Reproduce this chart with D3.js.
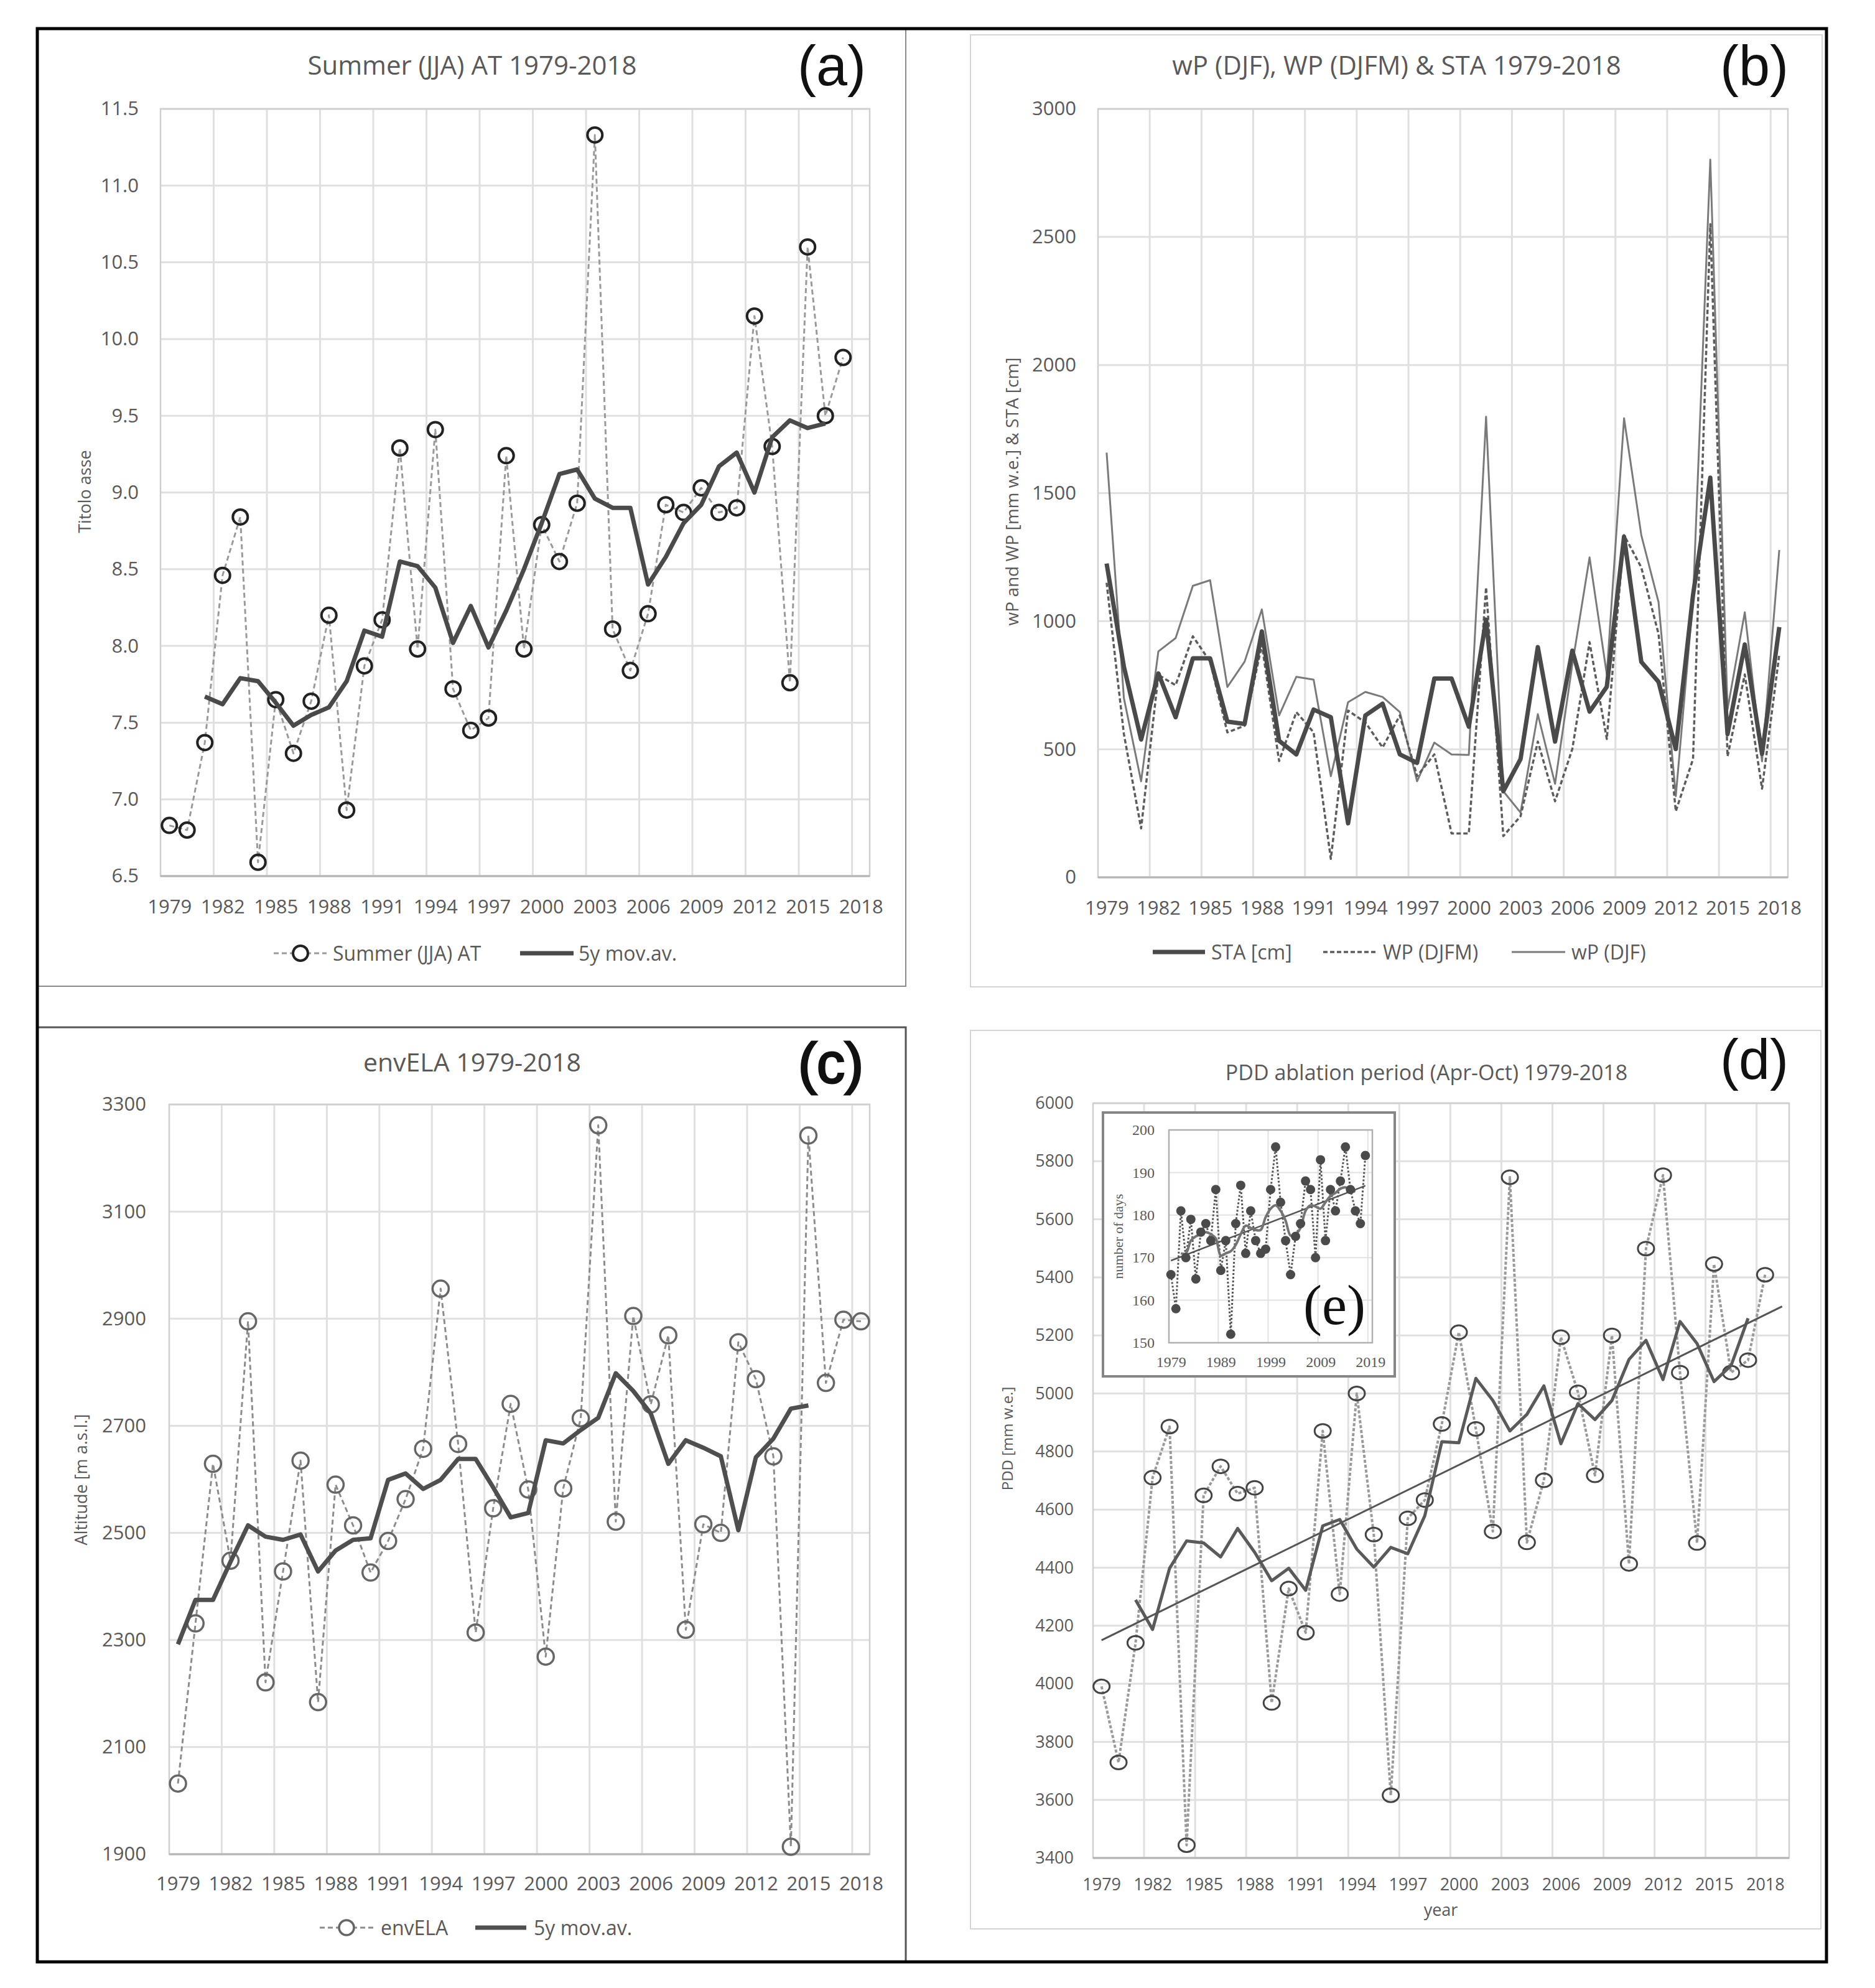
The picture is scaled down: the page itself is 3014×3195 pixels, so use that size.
<!DOCTYPE html>
<html>
<head>
<meta charset="utf-8" />
<script src="https://d3js.org/d3.v7.min.js"></script>
<style>
  body { margin: 0; background: #fff; }
  svg text { font-family: "Open Sans", sans-serif; fill: #595959; }
  .tag { font-family: "Liberation Sans", Arial, sans-serif; font-size: 90px; }
  svg .tag { fill: #111; }
  .inset text { font-family: "Liberation Serif", serif; }
</style>
</head>
<body>
<svg id="chart" width="3014" height="3195"></svg>
<script>

// ---- data ----
var years = [1979, 1980, 1981, 1982, 1983, 1984, 1985, 1986, 1987, 1988,
  1989, 1990, 1991, 1992, 1993, 1994, 1995, 1996, 1997, 1998,
  1999, 2000, 2001, 2002, 2003, 2004, 2005, 2006, 2007, 2008,
  2009, 2010, 2011, 2012, 2013, 2014, 2015, 2016, 2017, 2018];
var yearTicks = [1979, 1982, 1985, 1988, 1991, 1994, 1997, 2000, 2003, 2006, 2009, 2012, 2015, 2018];

// (a) summer air temperature
var summerAT = [6.83, 6.80, 7.37, 8.46, 8.84, 6.59, 7.65, 7.30, 7.64, 8.20,
  6.93, 7.87, 8.17, 9.29, 7.98, 9.41, 7.72, 7.45, 7.53, 9.24,
  7.98, 8.79, 8.55, 8.93, 11.33, 8.11, 7.84, 8.21, 8.92, 8.87,
  9.03, 8.87, 8.90, 10.15, 9.30, 7.76, 10.60, 9.50, 9.88, null];
var summerMovAv = [null, null, 7.67, 7.62, 7.79, 7.77, 7.63, 7.48, 7.55, 7.60,
  7.77, 8.10, 8.06, 8.55, 8.52, 8.38, 8.02, 8.26, 7.99, 8.23,
  8.50, 8.80, 9.12, 9.15, 8.96, 8.90, 8.90, 8.40, 8.58, 8.80,
  8.92, 9.17, 9.26, 9.00, 9.36, 9.47, 9.42, 9.45, null, null];
var summerTicks = [6.5, 7.0, 7.5, 8.0, 8.5, 9.0, 9.5, 10.0, 10.5, 11.0, 11.5];

// (b) winter precipitation and snow
var staCm = [1225, 823, 538, 796, 625, 855, 855, 608, 599, 960,
  533, 480, 655, 625, 211, 632, 678, 480, 447, 776,
  776, 588, 1006, 336, 462, 899, 530, 885, 647, 744,
  1330, 841, 763, 501, 1103, 1560, 559, 909, 482, 977];
var wpDJFM = [1150, 560, 191, 790, 750, 941, 842, 566, 592, 908,
  454, 645, 566, 72, 651, 605, 507, 632, 395, 480,
  171, 171, 1132, 161, 239, 530, 297, 501, 918, 540,
  1336, 1210, 950, 258, 462, 2550, 472, 792, 346, 870];
var wpDJF = [1658, 700, 375, 882, 934, 1138, 1160, 743, 842, 1046,
  632, 783, 772, 395, 684, 724, 704, 645, 375, 526,
  480, 478, 1798, 336, 253, 637, 365, 831, 1249, 792,
  1792, 1336, 1074, 317, 1084, 2802, 656, 1035, 453, 1278];
var precipTicks = [0, 500, 1000, 1500, 2000, 2500, 3000];

// (c) envELA
var envELA = [2032, 2331, 2629, 2448, 2895, 2221, 2428, 2635, 2184, 2590,
  2514, 2426, 2485, 2563, 2657, 2956, 2666, 2314, 2546, 2741,
  2581, 2269, 2583, 2714, 3261, 2521, 2905, 2740, 2869, 2319,
  2516, 2500, 2856, 2787, 2643, 1914, 3242, 2780, 2898, 2895];
var envMovAv = [2292, 2375, 2375, 2446, 2514, 2493, 2487, 2497, 2428, 2467,
  2487, 2490, 2599, 2611, 2582, 2599, 2638, 2638, 2585, 2529,
  2537, 2673, 2667, 2692, 2715, 2798, 2765, 2723, 2629, 2673,
  2659, 2643, 2505, 2641, 2676, 2732, 2738, null, null, null];
var elaTicks = [1900, 2100, 2300, 2500, 2700, 2900, 3100, 3300];

// (d) PDD ablation period
var pdd = [3991, 3729, 4141, 4710, 4886, 3444, 4649, 4749, 4655, 4675,
  3934, 4328, 4176, 4871, 4309, 5000, 4514, 3616, 4570, 4633,
  4895, 5211, 4878, 4525, 5745, 4487, 4701, 5194, 5004, 4718,
  5200, 4413, 5499, 5752, 5072, 4485, 5446, 5072, 5115, 5409];
var pddMovAv = [null, null, 4289, 4187, 4398, 4492, 4485, 4437, 4535, 4453,
  4355, 4398, 4322, 4544, 4566, 4464, 4402, 4470, 4448, 4579,
  4834, 4830, 5052, 4976, 4871, 4928, 5026, 4827, 4965, 4910,
  4976, 5117, 5183, 5048, 5248, 5172, 5041, 5096, 5259, null];
var pddTrendYears = [1979, 2019];
var pddTrend = [4150, 5300];
var pddTicks = [3400, 3600, 3800, 4000, 4200, 4400, 4600, 4800, 5000, 5200, 5400, 5600, 5800, 6000];

// (e) length of ablation period
var ablDays = [166, 158, 181, 170, 179, 165, 176, 178, 174, 186,
  167, 174, 152, 178, 187, 171, 181, 174, 171, 172,
  186, 196, 183, 174, 166, 175, 178, 188, 186, 170,
  193, 174, 186, 181, 188, 196, 186, 181, 178, 194];
var ablMovAv = [null, null, 171, 171, 174, 175, 175.5, 176, 175.5, 174.5,
  170.5, 171, 171.5, 173, 175.5, 177.5, 177, 176.5, 176.5, 179.5,
  181.5, 182.3, 181, 178.7, 175.2, 175.5, 177, 181, 182.3, 182,
  181.5, 183, 184.5, 185.2, 186.2, 186.5, 186, 185.5, null, null];
var ablTrendYears = [1979, 2018];
var ablTrend = [169.3, 186.9];
var daysTicks = [150, 160, 170, 180, 190, 200];
var daysYearTicks = [1979, 1989, 1999, 2009, 2019];

var svg = d3.select("#chart");
svg.append("rect").attr("width", 3014).attr("height", 3195).attr("fill", "#fff");

function frame(x0, y0, x1, y1, color, w) {
  svg.append("rect")
    .attr("x", x0).attr("y", y0)
    .attr("width", x1 - x0).attr("height", y1 - y0)
    .attr("fill", "none").attr("stroke", color).attr("stroke-width", w);
}

// panel frames
frame(1560, 56, 2929, 1586, "#d4d4d4", 2);
frame(1560, 1656, 2927, 3100, "#d4d4d4", 2);
frame(60, 46, 1456, 1585, "#8a8a8a", 2);
frame(60, 1651, 1456, 3153, "#555", 3);
frame(60, 46, 2936, 3153, "#000", 5);

// one Excel-style category panel
function panel(p) {
  var g = svg.append("g");
  var catRight = p.catRight || p.right;
  var x = d3.scalePoint().domain(years).range([p.left, catRight]).padding(0.5);
  var y = d3.scaleLinear().domain(p.yDomain).range([p.bottom, p.top]);
  var step = x.step();

  g.selectAll(".hgrid").data(p.yTicks).enter().append("line")
    .attr("x1", p.left).attr("x2", p.right)
    .attr("y1", function(d) { return y(d); })
    .attr("y2", function(d) { return y(d); })
    .attr("stroke", "#e0e0e0").attr("stroke-width", 3);

  g.selectAll(".vgrid").data(yearTicks.slice(1)).enter().append("line")
    .attr("x1", function(d) { return x(d) - step / 2; })
    .attr("x2", function(d) { return x(d) - step / 2; })
    .attr("y1", p.top).attr("y2", p.bottom)
    .attr("stroke", "#e0e0e0").attr("stroke-width", 3);

  g.append("rect")
    .attr("x", p.left).attr("y", p.top)
    .attr("width", p.right - p.left).attr("height", p.bottom - p.top)
    .attr("fill", "none").attr("stroke", "#cfcfcf").attr("stroke-width", 2.5);
  g.append("line")
    .attr("x1", p.left).attr("x2", p.right)
    .attr("y1", p.bottom).attr("y2", p.bottom)
    .attr("stroke", "#b5b5b5").attr("stroke-width", 3);

  var yAxis = g.append("g")
    .attr("transform", "translate(" + p.left + ",0)")
    .call(d3.axisLeft(y).tickValues(p.yTicks).tickSize(0).tickPadding(p.yPad)
      .tickFormat(p.yFormat));
  var xAxis = g.append("g")
    .attr("transform", "translate(0," + p.bottom + ")")
    .call(d3.axisBottom(x).tickValues(yearTicks).tickSize(0).tickPadding(p.xPad));
  [yAxis, xAxis].forEach(function(a) {
    a.select(".domain").remove();
    a.selectAll("text")
      .attr("font-family", "Open Sans, sans-serif")
      .attr("font-size", p.tickSize)
      .attr("fill", "#595959");
  });

  svg.append("text")
    .attr("x", p.titleX).attr("y", p.titleY)
    .attr("text-anchor", "middle")
    .attr("font-size", p.titleSize)
    .text(p.title);

  svg.append("text")
    .attr("class", "tag")
    .attr("x", p.tagX).attr("y", p.tagY)
    .attr("text-anchor", "end")
    .attr("stroke", p.tagHeavy ? "#111" : null)
    .attr("stroke-width", p.tagHeavy ? 3 : null)
    .text(p.tag);

  svg.append("text")
    .attr("transform", "translate(" + p.yTitleX + "," + p.yTitleY + ") rotate(-90)")
    .attr("text-anchor", "middle")
    .attr("font-size", p.yTitleSize)
    .text(p.yTitle);

  return { x: x, y: y, g: g };
}

// position of a (possibly fractional) year on a category axis
function catX(pn, year) {
  return pn.x(years[0]) + (year - years[0]) * pn.x.step();
}

function seriesLine(pn, values, color, width, dash, xs) {
  var line = d3.line()
    .defined(function(d) { return d != null; })
    .x(function(d, i) { return (xs || pn.x)(years[i]); })
    .y(function(d) { return pn.y(d); });
  pn.g.append("path")
    .datum(values)
    .attr("d", line)
    .attr("fill", "none")
    .attr("stroke", color)
    .attr("stroke-width", width)
    .attr("stroke-linejoin", "round")
    .attr("stroke-dasharray", dash || null);
}

function markers(pn, values, color, width, rx, ry) {
  pn.g.selectAll(null)
    .data(values.map(function(v, i) { return { year: years[i], v: v }; })
      .filter(function(d) { return d.v != null; }))
    .enter().append("ellipse")
    .attr("cx", function(d) { return pn.x(d.year); })
    .attr("cy", function(d) { return pn.y(d.v); })
    .attr("rx", rx).attr("ry", ry)
    .attr("fill", "none")
    .attr("stroke", color)
    .attr("stroke-width", width);
}

function legendLine(x0, x1, y, color, width, dash) {
  svg.append("line")
    .attr("x1", x0).attr("x2", x1).attr("y1", y).attr("y2", y)
    .attr("stroke", color).attr("stroke-width", width)
    .attr("stroke-dasharray", dash || null);
}
function legendText(x, y, size, txt) {
  svg.append("text").attr("x", x).attr("y", y + size * 0.36)
    .attr("font-size", size).text(txt);
}

// ---- (a) ----
var pa = panel({
  left: 258, right: 1398, top: 175, bottom: 1408,
  yDomain: [6.5, 11.5], yTicks: summerTicks, yFormat: d3.format(".1f"),
  yPad: 35, xPad: 38, tickSize: 31,
  title: "Summer (JJA) AT 1979-2018", titleX: 759, titleY: 120, titleSize: 42,
  tag: "(a)", tagX: 1392, tagY: 137,
  yTitle: "Titolo asse", yTitleX: 146, yTitleY: 790, yTitleSize: 27
});
seriesLine(pa, summerAT, "#9a9a9a", 3, "8,5");
markers(pa, summerAT, "#222", 4, 12, 12);
seriesLine(pa, summerMovAv, "#4a4a4a", 7);

legendLine(440, 525, 1532, "#9a9a9a", 3, "8,5");
svg.append("circle").attr("cx", 483).attr("cy", 1532).attr("r", 12)
  .attr("fill", "#fff").attr("stroke", "#222").attr("stroke-width", 4);
legendText(535, 1532, 32, "Summer (JJA) AT");
legendLine(836, 922, 1532, "#4a4a4a", 7);
legendText(930, 1532, 32, "5y mov.av.");

// ---- (b) ----
var pb = panel({
  left: 1765, right: 2874, top: 175, bottom: 1410,
  yDomain: [0, 3000], yTicks: precipTicks, yFormat: d3.format("d"),
  yPad: 35, xPad: 38, tickSize: 31,
  title: "wP (DJF), WP (DJFM) & STA 1979-2018", titleX: 2245, titleY: 120, titleSize: 42,
  tag: "(b)", tagX: 2875, tagY: 137,
  yTitle: "wP and WP [mm w.e.] & STA [cm]", yTitleX: 1637, yTitleY: 790, yTitleSize: 28
});
seriesLine(pb, wpDJF, "#7a7a7a", 3);
seriesLine(pb, wpDJFM, "#5c5c5c", 3.5, "7,4");
seriesLine(pb, staCm, "#4a4a4a", 7);

legendLine(1853, 1937, 1530, "#4a4a4a", 7);
legendText(1947, 1530, 32, "STA [cm]");
legendLine(2127, 2213, 1530, "#5c5c5c", 3.5, "7,4");
legendText(2223, 1530, 32, "WP (DJFM)");
legendLine(2430, 2516, 1530, "#7a7a7a", 3);
legendText(2526, 1530, 32, "wP (DJF)");

// ---- (c) ----
var pc = panel({
  left: 272, right: 1398, top: 1775, bottom: 2980,
  yDomain: [1900, 3300], yTicks: elaTicks, yFormat: d3.format("d"),
  yPad: 37, xPad: 36, tickSize: 31,
  title: "envELA 1979-2018", titleX: 759, titleY: 1722, titleSize: 41,
  tag: "(c)", tagX: 1388, tagY: 1740, tagHeavy: true,
  yTitle: "Altitude  [m a.s.l.]", yTitleX: 140, yTitleY: 2378, yTitleSize: 27
});
seriesLine(pc, envELA, "#8c8c8c", 3, "8,5");
markers(pc, envELA, "#666", 3.5, 13, 13);
seriesLine(pc, envMovAv, "#4f4f4f", 7);

legendLine(514, 601, 3098, "#8c8c8c", 3, "8,5");
svg.append("circle").attr("cx", 557).attr("cy", 3098).attr("r", 12)
  .attr("fill", "#fff").attr("stroke", "#666").attr("stroke-width", 3.5);
legendText(612, 3098, 32, "envELA");
legendLine(764, 846, 3098, "#4f4f4f", 7);
legendText(858, 3098, 32, "5y mov.av.");

// ---- (d) ----
var pd = panel({
  left: 1757, right: 2876, catRight: 2851, top: 1773, bottom: 2986,
  yDomain: [3400, 6000], yTicks: pddTicks, yFormat: d3.format("d"),
  yPad: 31, xPad: 33, tickSize: 27,
  title: "PDD ablation period (Apr-Oct) 1979-2018", titleX: 2293, titleY: 1736, titleSize: 34,
  tag: "(d)", tagX: 2875, tagY: 1734,
  yTitle: "PDD [mm w.e.]", yTitleX: 1628, yTitleY: 2312, yTitleSize: 24
});
svg.append("text").attr("x", 2316).attr("y", 3079)
  .attr("text-anchor", "middle").attr("font-size", 27).text("year");

seriesLine(pd, pdd, "#9a9a9a", 4, "5,3");
markers(pd, pdd, "#444", 3, 13, 11);
seriesLine(pd, pddMovAv, "#5a5a5a", 5);
pd.g.append("line")
  .attr("x1", catX(pd, pddTrendYears[0])).attr("y1", pd.y(pddTrend[0]))
  .attr("x2", catX(pd, pddTrendYears[1])).attr("y2", pd.y(pddTrend[1]))
  .attr("stroke", "#555").attr("stroke-width", 3);

// ---- (e) inset ----
var inset = svg.append("g").attr("class", "inset");
inset.append("rect")
  .attr("x", 1773).attr("y", 1788).attr("width", 469).attr("height", 424)
  .attr("fill", "#fff").attr("stroke", "#868686").attr("stroke-width", 4);

var ex = d3.scaleLinear().domain([1978.6, 2019.4]).range([1879, 2206]);
var ey = d3.scaleLinear().domain([150, 200]).range([2158, 1816]);

inset.selectAll(".hg").data(daysTicks.slice(1, -1)).enter().append("line")
  .attr("x1", 1879).attr("x2", 2206)
  .attr("y1", function(d) { return ey(d); }).attr("y2", function(d) { return ey(d); })
  .attr("stroke", "#e2e2e2").attr("stroke-width", 2);
inset.selectAll(".vg").data(daysYearTicks.slice(1)).enter().append("line")
  .attr("x1", function(d) { return ex(d - 0.5); }).attr("x2", function(d) { return ex(d - 0.5); })
  .attr("y1", 1816).attr("y2", 2158)
  .attr("stroke", "#e2e2e2").attr("stroke-width", 2);
inset.append("rect")
  .attr("x", 1879).attr("y", 1816).attr("width", 327).attr("height", 342)
  .attr("fill", "none").attr("stroke", "#b0b0b0").attr("stroke-width", 2.5);

var eyAxis = inset.append("g").attr("transform", "translate(1879,0)")
  .call(d3.axisLeft(ey).tickValues(daysTicks).tickSize(0).tickPadding(23));
var exAxis = inset.append("g").attr("transform", "translate(0,2158)")
  .call(d3.axisBottom(ex).tickValues(daysYearTicks).tickSize(0).tickPadding(22)
    .tickFormat(d3.format("d")));
[eyAxis, exAxis].forEach(function(a) {
  a.select(".domain").remove();
  a.selectAll("text")
    .attr("font-family", "Liberation Serif, serif")
    .attr("font-size", 24)
    .attr("fill", "#707070");
});
inset.append("text")
  .attr("transform", "translate(1805,1987) rotate(-90)")
  .attr("text-anchor", "middle")
  .attr("font-family", "Open Sans, sans-serif")
  .attr("font-size", 22)
  .text("number of days");

var insetPanel = { x: ex, y: ey, g: inset };
seriesLine(insetPanel, ablDays, "#555", 3, "3,3", ex);
inset.append("line")
  .attr("x1", ex(ablTrendYears[0])).attr("y1", ey(ablTrend[0]))
  .attr("x2", ex(ablTrendYears[1])).attr("y2", ey(ablTrend[1]))
  .attr("stroke", "#555").attr("stroke-width", 2.5);
inset.append("path")
  .datum(ablMovAv)
  .attr("d", d3.line()
    .defined(function(d) { return d != null; })
    .x(function(d, i) { return ex(years[i]); })
    .y(function(d) { return ey(d); })
    .curve(d3.curveCatmullRom))
  .attr("fill", "none").attr("stroke", "#747474").attr("stroke-width", 4);
inset.selectAll(".dot").data(ablDays).enter().append("circle")
  .attr("cx", function(d, i) { return ex(years[i]); })
  .attr("cy", function(d) { return ey(d); })
  .attr("r", 7.5)
  .attr("fill", "#4a4a4a");

inset.append("text")
  .attr("class", "tag")
  .attr("x", 2195).attr("y", 2128)
  .attr("text-anchor", "end")
  .attr("font-size", 95)
  .text("(e)");

</script>
</body>
</html>
